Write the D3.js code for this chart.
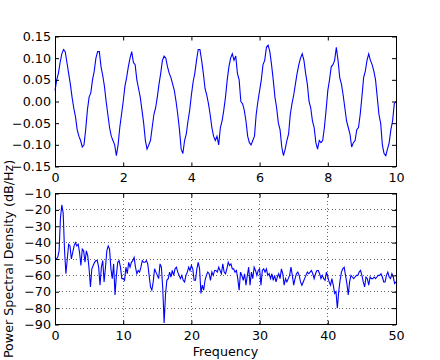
<!DOCTYPE html>
<html>
<head>
<meta charset="utf-8">
<script src="https://cdn.jsdelivr.net/npm/d3@7"></script>
<style>
  body { margin: 0; background: #fff; }
  svg { display: block; }
  text { font-family: "DejaVu Sans", sans-serif; font-size: 12.7px; fill: #000; }
</style>
</head>
<body>
<svg id="chart" width="440" height="360"></svg>
<script>
// signal, sampled every 0.05 s
var sigStep = 0.05;
var signal = [
  0.025, 0.05, 0.065, 0.09, 0.11, 0.12, 0.115, 0.09, 0.065, 0.04,
  0.01, -0.015, -0.035, -0.065, -0.08, -0.09, -0.105, -0.1, -0.065, -0.02,
  0.01, 0.02, 0.05, 0.07, 0.1, 0.115, 0.115, 0.08, 0.06, 0.035,
  0.0, -0.03, -0.06, -0.08, -0.09, -0.1, -0.125, -0.1, -0.06, -0.03,
  0.0, 0.035, 0.055, 0.08, 0.1, 0.115, 0.09, 0.085, 0.05, 0.03,
  0.01, -0.02, -0.05, -0.09, -0.11, -0.1, -0.09, -0.06, -0.03, -0.015,
  0.01, 0.04, 0.065, 0.095, 0.105, 0.1, 0.08, 0.065, 0.055, 0.04,
  0.025, 0.0, -0.03, -0.065, -0.11, -0.12, -0.09, -0.075, -0.045, -0.02,
  0.015, 0.045, 0.065, 0.095, 0.12, 0.12, 0.095, 0.065, 0.03, 0.015,
  -0.005, -0.03, -0.06, -0.08, -0.09, -0.08, -0.1, -0.06, -0.045, -0.02,
  0.01, 0.05, 0.08, 0.1, 0.11, 0.095, 0.105, 0.065, 0.05, 0.0,
  -0.005, -0.02, -0.045, -0.08, -0.095, -0.1, -0.09, -0.08, -0.03, 0.0,
  0.025, 0.05, 0.085, 0.095, 0.125, 0.13, 0.115, 0.085, 0.05, 0.01,
  -0.015, -0.05, -0.065, -0.105, -0.125, -0.11, -0.09, -0.075, -0.03, -0.005,
  0.015, 0.04, 0.065, 0.085, 0.1, 0.11, 0.095, 0.065, 0.04, 0.0,
  -0.015, -0.045, -0.06, -0.095, -0.11, -0.09, -0.095, -0.09, -0.06, -0.02,
  0.025, 0.05, 0.08, 0.085, 0.095, 0.125, 0.095, 0.055, 0.04, 0.015,
  -0.015, -0.045, -0.06, -0.075, -0.105, -0.095, -0.09, -0.065, -0.06, -0.03,
  0.01, 0.055, 0.07, 0.095, 0.11, 0.095, 0.085, 0.07, 0.05, 0.01,
  -0.03, -0.05, -0.1, -0.12, -0.125, -0.11, -0.095, -0.065, -0.045, -0.005,
  0.0
];

// power spectral density in dB/Hz, every 0.2 Hz
var freqStep = 0.2;
var psd = [
  -49, -50, -49, -45, -25, -17, -22, -45, -59, -50,
  -41, -42, -50, -46, -42, -40, -42, -41, -46, -54,
  -44, -45, -52, -45, -48, -56, -67, -56, -54, -52,
  -51, -51, -55, -66, -55, -51, -64, -55, -45, -42,
  -44, -56, -62, -53, -72, -60, -52, -51, -55, -62,
  -62, -63, -55, -59, -52, -55, -52, -51, -49, -55,
  -59, -57, -58, -55, -51, -52, -52, -51, -53, -60,
  -67, -69, -64, -56, -58, -60, -62, -53, -55, -68,
  -89, -72, -63, -62, -58, -61, -57, -60, -56, -55,
  -58, -60, -62, -60, -63, -64, -60, -58, -55, -57,
  -54, -56, -63, -63, -56, -52, -56, -71, -66, -69,
  -63, -60, -58, -59, -63, -58, -60, -57, -57, -58,
  -55, -57, -59, -53, -58, -59, -56, -52, -54, -53,
  -56, -56, -58, -57, -62, -69, -58, -60, -63, -59,
  -66, -60, -55, -66, -58, -62, -55, -57, -60, -57,
  -56, -66, -57, -56, -58, -56, -60, -59, -62, -59,
  -63, -60, -64, -61, -59, -62, -56, -59, -66, -62,
  -64, -62, -60, -55, -60, -66, -62, -59, -58, -60,
  -64, -66, -64, -62, -60, -58, -59, -58, -57, -59,
  -62, -59, -57, -57, -59, -62, -60, -62, -63, -58,
  -61, -64, -66, -62, -66, -71, -70, -80, -70, -63,
  -58, -56, -55, -60, -65, -72, -64, -60, -61, -62,
  -61, -60, -60, -58, -57, -60, -64, -67, -61, -62,
  -66, -61, -62, -62, -61, -62, -61, -60, -60, -59,
  -61, -64, -64, -60, -58, -61, -62, -59, -61, -65,
  -64
];

var timeTicks = [0, 2, 4, 6, 8, 10];
var sigTicks = [-0.15, -0.10, -0.05, 0.00, 0.05, 0.10, 0.15];
var freqTicks = [0, 10, 20, 30, 40, 50];
var dbTicks = [-90, -80, -70, -60, -50, -40, -30, -20, -10];

var svg = d3.select("#chart");
var left = 55, right = 396;
var fmtMinus = function (s) { return s.replace("-", "\u2212"); };

function drawPanel(cfg) {
    var x = d3.scaleLinear().domain(cfg.xDomain).range([left, right]);
    var y = d3.scaleLinear().domain(cfg.yDomain).range([cfg.bottom, cfg.top]);
    var g = svg.append("g");

    if (cfg.grid) {
        var grid = g.append("g");
        grid.selectAll("line.gx")
            .data(cfg.xTicks.slice(1, -1))
            .enter().append("line")
            .attr("x1", function (d) { return x(d); })
            .attr("x2", function (d) { return x(d); })
            .attr("y1", cfg.top).attr("y2", cfg.bottom);
        grid.selectAll("line.gy")
            .data(cfg.yTicks.slice(1, -1))
            .enter().append("line")
            .attr("y1", function (d) { return y(d); })
            .attr("y2", function (d) { return y(d); })
            .attr("x1", left).attr("x2", right);
        grid.selectAll("line")
            .attr("stroke", "#000")
            .attr("stroke-width", 0.6)
            .attr("stroke-dasharray", "1,2.5")
            .attr("shape-rendering", "crispEdges");
    }

    var line = d3.line()
        .x(function (d, i) { return x(i * cfg.step); })
        .y(function (d) { return y(d); });

    g.append("path")
        .datum(cfg.values)
        .attr("fill", "none")
        .attr("stroke", "#0000ff")
        .attr("stroke-width", 1.1)
        .attr("d", line);

    // axes, ticks pointing inward on all four sides
    var xb = d3.axisBottom(x).tickValues(cfg.xTicks).tickSize(-4).tickPadding(6)
        .tickFormat(function (d) { return fmtMinus(String(d)); });
    var xt = d3.axisTop(x).tickValues(cfg.xTicks).tickSize(-4).tickFormat("");
    var yl = d3.axisLeft(y).tickValues(cfg.yTicks).tickSize(-4).tickPadding(4)
        .tickFormat(function (d) { return fmtMinus(cfg.yFormat(d)); });
    var yr = d3.axisRight(y).tickValues(cfg.yTicks).tickSize(-4).tickFormat("");

    var ax = [
        g.append("g").attr("transform", "translate(0," + cfg.bottom + ")").call(xb),
        g.append("g").attr("transform", "translate(0," + cfg.top + ")").call(xt),
        g.append("g").attr("transform", "translate(" + left + ",0)").call(yl),
        g.append("g").attr("transform", "translate(" + right + ",0)").call(yr)
    ];
    ax.forEach(function (a) {
        a.select(".domain").remove();
        a.selectAll("line").attr("stroke", "#000");
        a.selectAll("text")
            .attr("font-family", "DejaVu Sans")
            .attr("font-size", 12.7)
            .attr("fill", "#000");
    });

    g.append("rect")
        .attr("x", left).attr("y", cfg.top)
        .attr("width", right - left).attr("height", cfg.bottom - cfg.top)
        .attr("fill", "none")
        .attr("stroke", "#000")
        .attr("stroke-width", 1)
        .attr("shape-rendering", "crispEdges");
}

drawPanel({
    values: signal, step: sigStep,
    xDomain: [0, 10], yDomain: [-0.15, 0.15],
    xTicks: timeTicks, yTicks: sigTicks,
    yFormat: d3.format(".2f"),
    top: 36.5, bottom: 166.5, grid: false
});

drawPanel({
    values: psd, step: freqStep,
    xDomain: [0, 50], yDomain: [-90, -10],
    xTicks: freqTicks, yTicks: dbTicks,
    yFormat: d3.format("d"),
    top: 193.5, bottom: 324.5, grid: true
});

// axis labels
svg.append("text")
    .attr("x", (left + right) / 2)
    .attr("y", 356)
    .attr("text-anchor", "middle")
    .text("Frequency");

svg.append("text")
    .attr("transform", "translate(13," + 259 + ") rotate(-90)")
    .attr("text-anchor", "middle")
    .text("Power Spectral Density (dB/Hz)");
</script>
</body>
</html>
